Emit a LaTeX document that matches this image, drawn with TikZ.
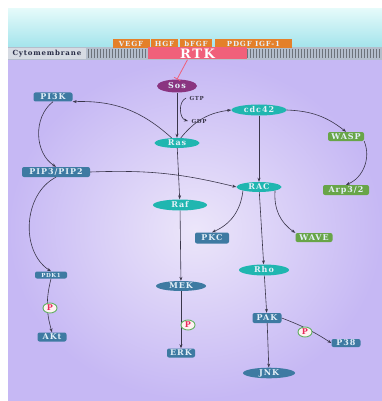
\documentclass[tikz,border=0pt]{standalone}
\usepackage{fontspec}
\setmainfont{DejaVu Serif}
\newfontfamily\lblfamily[LetterSpace=12]{DejaVu Serif}
\usetikzlibrary{shapes.geometric,arrows.meta}

\definecolor{boxblue}{RGB}{62,122,162}
\definecolor{tealc}{RGB}{32,182,176}
\definecolor{greenc}{RGB}{104,165,72}
\definecolor{sosc}{RGB}{138,52,128}
\definecolor{orangec}{RGB}{228,128,42}
\definecolor{rtkc}{RGB}{240,96,122}
\definecolor{edgec}{RGB}{58,54,74}
\definecolor{labeltext}{RGB}{228,240,248}
\definecolor{membc}{RGB}{180,190,204}
\definecolor{phosring}{RGB}{96,176,96}
\definecolor{phosred}{RGB}{232,40,90}

\newcommand\lblfont{\lblfamily\bfseries\fontsize{8}{9}\selectfont}
\newcommand\ligfont{\lblfamily\bfseries\fontsize{7}{8}\selectfont}
\newcommand\smallfont{\lblfamily\bfseries\fontsize{5.5}{6}\selectfont}

\begin{document}
\begin{tikzpicture}[x=1pt,y=-1pt,>={Stealth[length=4pt,width=3pt]},
  box/.style={rectangle,rounded corners=2pt,fill=boxblue,text=labeltext,font=\lblfont,inner sep=0pt,minimum height=9pt},
  gbox/.style={box,fill=greenc},
  oval/.style={ellipse,fill=tealc,text=labeltext,font=\lblfont,inner sep=0pt,minimum height=10pt},
  boval/.style={oval,fill=boxblue},
  lig/.style={rectangle,fill=orangec,text=labeltext,font=\ligfont,inner sep=0pt,minimum height=9pt},
  phos/.style={ellipse,draw=phosring,line width=0.9pt,fill=white!80!pink,text=phosred,font=\lblfont,inner sep=0pt,minimum width=14pt,minimum height=10pt},
  link/.style={->,draw=edgec,line width=0.6pt}]

  % Frame
  \useasboundingbox (0,0) rectangle (382,401);
  \fill[white] (0,0) rectangle (382,401);

  % Outside the cell (light cyan)
  \shade[top color={rgb,255:red,228;green,250;blue,250},bottom color={rgb,255:red,164;green,228;blue,236}]
    (8,9) rectangle (382,47);

  % Cytoplasm (lavender)
  \shade[inner color={rgb,255:red,236;green,230;blue,250},outer color={rgb,255:red,198;green,184;blue,244}]
    (8,60) rectangle (382,400);

  % Membrane
  \fill[membc] (8,47) rectangle (382,60);
  \fill[membc!55!white] (8,48) rectangle (86,59);
  \foreach \x in {88,91,...,380}
    \draw[membc!60!black,line width=0.5pt] (\x,49) -- (\x,58);
  \node[font=\ligfont,text={rgb,255:red,40;green,44;blue,70},anchor=west] (memb) at (9,53.5) {Cytomembrane};

  % Ligands and receptor
  \node[lig,minimum width=37pt] (vegf) at (131,43.5) {VEGF};
  \node[lig,minimum width=27pt] (hgf) at (164.5,43.5) {HGF};
  \node[lig,minimum width=32pt] (bfgf) at (196,43.5) {bFGF};
  \node[lig,minimum width=77pt] (pdgf) at (253.5,43.5) {PDGF\ IGF-1};
  \node[rectangle,fill=rtkc,text=white,font=\lblfamily\bfseries\fontsize{13}{13}\selectfont,inner sep=0pt,minimum width=99pt,minimum height=12pt] (rtk) at (197.5,53.5) {RTK};

  % Signalling nodes
  \node[oval,fill=sosc,minimum width=40pt,minimum height=13pt] (sos) at (177,86) {Sos};
  \node[box,minimum width=39pt] (pi3k) at (53,97) {PI3K};
  \node[oval,minimum width=55pt,minimum height=11pt] (cdc42) at (259,110) {cdc42};
  \node[oval,minimum width=45pt] (ras) at (177,143) {Ras};
  \node[gbox,minimum width=36pt] (wasp) at (346,136.5) {WASP};
  \node[box,minimum width=68pt,minimum height=10pt] (pip) at (56,172) {PIP3/PIP2};
  \node[oval,minimum width=45pt] (rac) at (259,187) {RAC};
  \node[gbox,minimum width=46pt,minimum height=10pt] (arp) at (346,190) {Arp3/2};
  \node[oval,minimum width=54pt,minimum height=11pt] (raf) at (180,205) {Raf};
  \node[box,minimum width=34pt,minimum height=11pt] (pkc) at (212,238) {PKC};
  \node[gbox,minimum width=37pt] (wave) at (314,237.5) {WAVE};
  \node[oval,minimum width=50pt,minimum height=11pt] (rho) at (264,270) {Rho};
  \node[box,minimum width=32pt,minimum height=7pt,font=\smallfont] (pdk1) at (51,275) {PDK1};
  \node[boval,minimum width=50pt] (mek) at (181,286) {MEK};
  \node[box,minimum width=29pt] (akt) at (52,337) {AKt};
  \node[box,minimum width=28pt] (erk) at (181,353) {ERK};
  \node[box,minimum width=29pt,minimum height=10pt] (pak) at (267,318) {PAK};
  \node[box,minimum width=29pt,minimum height=8pt] (p38) at (346,343) {P38};
  \node[boval,minimum width=52pt] (jnk) at (269,373) {JNK};

  % GTP / GDP exchange
  \node[font=\smallfont,text=edgec,anchor=west] (gtp) at (186,98) {GTP};
  \node[font=\smallfont,text=edgec,anchor=west] (gdp) at (188,121) {GDP};
  \draw[link] (gtp.west) to[bend right=70] (gdp.west);

  % RTK inhibits Sos
  \draw[rtkc,line width=0.8pt,-{Bar[width=7pt]}] (rtk.south) ++(-10,0) coordinate (rtkout) (rtkout) -- (sos.north);

  % Connectors
  \draw[link] (sos) -- (ras);
  \draw[link] (ras) to[bend right=22] (pi3k.south east);
  \draw[link] (ras) to[bend left=22] (cdc42.west);
  \draw[link] (pi3k.south) to[bend right=55] (pip.north);
  \draw[link] (pip.east) to[bend left=8] (rac.west);
  \draw[link] (pip.south) to[bend right=60] (pdk1.north);
  \draw[link] (cdc42.east) to[bend left=18] (wasp.north);
  \draw[link] (wasp.south east) to[bend left=45] (arp.north);
  \draw[link] (cdc42) -- (rac);
  \draw[link] (ras) -- (raf);
  \draw[link] (raf) -- (mek);
  \draw[link] (rac.south west) to[bend left=30] (pkc.north);
  \draw[link] (rac.south east) to[bend right=30] (wave.north west);
  \draw[link] (rac) -- (rho);
  \draw[link] (rho) -- (pak);
  \draw[link] (pak) -- (jnk);
  \draw[link] (pdk1.south) to[bend right=15] (akt.north);
  \draw[link] (mek) -- (erk);
  \draw[link] (pak.east) to[bend left=6] (p38.west);

  % Phosphorylation marks
  \node[phos] (pakt) at (50,308) {P};
  \node[phos] (perk) at (188,325) {P};
  \node[phos] (pp38) at (305,332) {P};
\end{tikzpicture}
\end{document}
